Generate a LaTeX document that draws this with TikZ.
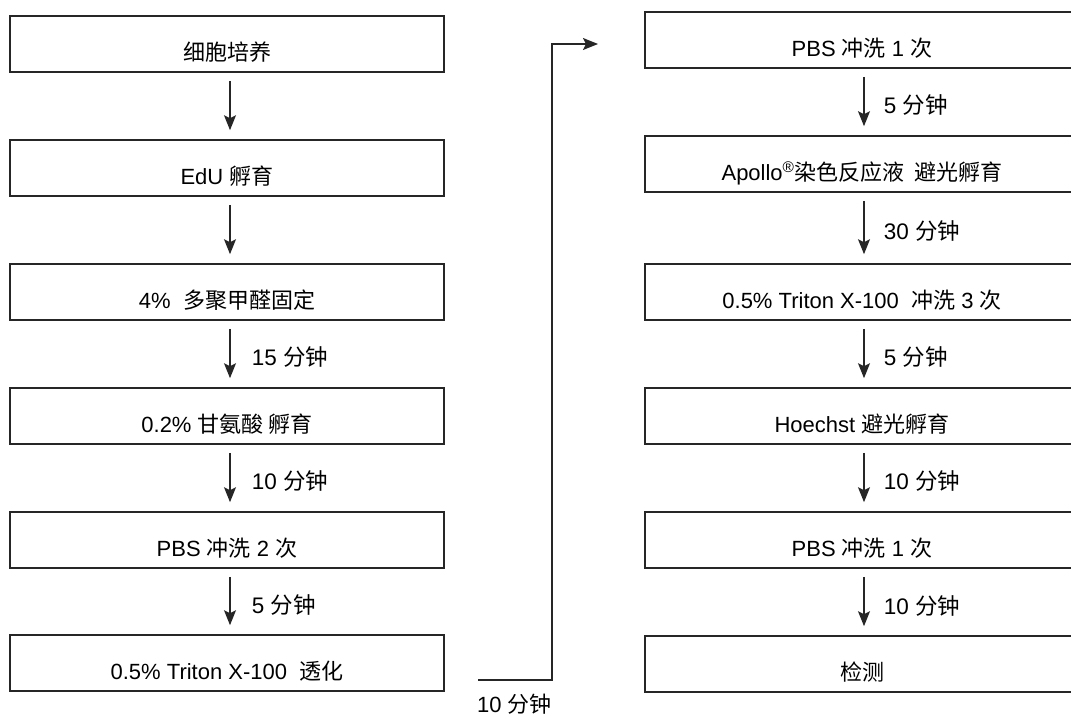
\documentclass[tikz,border=0pt]{standalone}
\usepackage{fontspec}
\setmainfont{Liberation Sans}
\newfontfamily\cjk{Noto Sans CJK SC}
\usetikzlibrary{arrows.meta}
\tikzset{
  stepbox/.style={draw=black!85, line width=1.6pt, minimum width=434pt, minimum height=56pt,
    inner sep=0pt, text height=33pt, text depth=0pt, font=\fontsize{22}{22}\selectfont},
  arr/.style={draw=black!85, line width=1.5pt, -{Stealth[length=15pt,width=12pt,inset=3pt]}},
  tlabel/.style={anchor=west, font=\fontsize{22.5}{22.5}\selectfont, inner sep=0pt},
}
\begin{document}
\begin{tikzpicture}[x=1pt,y=-1pt]
\useasboundingbox (0,0) rectangle (1071,717);
% left column
\node[stepbox] (b1) at (227,44) {{\cjk 细胞培养}};
\node[stepbox] (b2) at (227,168) {EdU {\cjk 孵育}};
\node[stepbox] (b3) at (227,292) {4\%\ \ {\cjk 多聚甲醛固定}};
\node[stepbox] (b4) at (227,416) {0.2\%\ {\cjk 甘氨酸\ 孵育}};
\node[stepbox] (b5) at (227,540) {PBS {\cjk 冲洗} 2 {\cjk 次}};
\node[stepbox] (b6) at (227,663) {0.5\% Triton X-100\ \ {\cjk 透化}};
% right column
\node[stepbox] (r1) at (862,40) {PBS {\cjk 冲洗} 1 {\cjk 次}};
\node[stepbox] (r2) at (862,164) {Apollo\textsuperscript{®}{\cjk 染色反应液\ \ 避光孵育}};
\node[stepbox] (r3) at (862,292) {0.5\% Triton X-100\ \ {\cjk 冲洗} 3 {\cjk 次}};
\node[stepbox] (r4) at (862,416) {Hoechst {\cjk 避光孵育}};
\node[stepbox] (r5) at (862,540) {PBS {\cjk 冲洗} 1 {\cjk 次}};
\node[stepbox] (r6) at (862,664) {{\cjk 检测}};
% left arrows
\draw[arr] ([shift={(3pt,-8pt)}]b1.south) -- ([shift={(3pt,9pt)}]b2.north);
\draw[arr] ([shift={(3pt,-8pt)}]b2.south) -- ([shift={(3pt,9pt)}]b3.north);
\draw[arr] ([shift={(3pt,-8pt)}]b3.south) -- ([shift={(3pt,9pt)}]b4.north)
  node[tlabel, midway, xshift=21pt, yshift=-4pt] {15 {\cjk 分钟}};
\draw[arr] ([shift={(3pt,-8pt)}]b4.south) -- ([shift={(3pt,9pt)}]b5.north)
  node[tlabel, midway, xshift=21pt, yshift=-4pt] {10 {\cjk 分钟}};
\draw[arr] ([shift={(3pt,-8pt)}]b5.south) -- ([shift={(3pt,9pt)}]b6.north)
  node[tlabel, midway, xshift=21pt, yshift=-4pt] {5 {\cjk 分钟}};
% right arrows
\draw[arr] ([shift={(2pt,-8pt)}]r1.south) -- ([shift={(2pt,9pt)}]r2.north)
  node[tlabel, midway, xshift=19pt, yshift=-4pt] {5 {\cjk 分钟}};
\draw[arr] ([shift={(2pt,-8pt)}]r2.south) -- ([shift={(2pt,9pt)}]r3.north)
  node[tlabel, midway, xshift=19pt, yshift=-4pt] {30 {\cjk 分钟}};
\draw[arr] ([shift={(2pt,-8pt)}]r3.south) -- ([shift={(2pt,9pt)}]r4.north)
  node[tlabel, midway, xshift=19pt, yshift=-4pt] {5 {\cjk 分钟}};
\draw[arr] ([shift={(2pt,-8pt)}]r4.south) -- ([shift={(2pt,9pt)}]r5.north)
  node[tlabel, midway, xshift=19pt, yshift=-4pt] {10 {\cjk 分钟}};
\draw[arr] ([shift={(2pt,-8pt)}]r5.south) -- ([shift={(2pt,9pt)}]r6.north)
  node[tlabel, midway, xshift=19pt, yshift=-4pt] {10 {\cjk 分钟}};
% elbow connector from left column to right column
\coordinate (c1) at (478,680);
\coordinate (c2) at (552,680);
\coordinate (c3) at (598,44);
\draw[arr] (c1) -- (c2) |- (c3);
\node[tlabel, font=\fontsize{22}{22}\selectfont] (t10) at (477,704) {10 {\cjk 分钟}};
\end{tikzpicture}
\end{document}
